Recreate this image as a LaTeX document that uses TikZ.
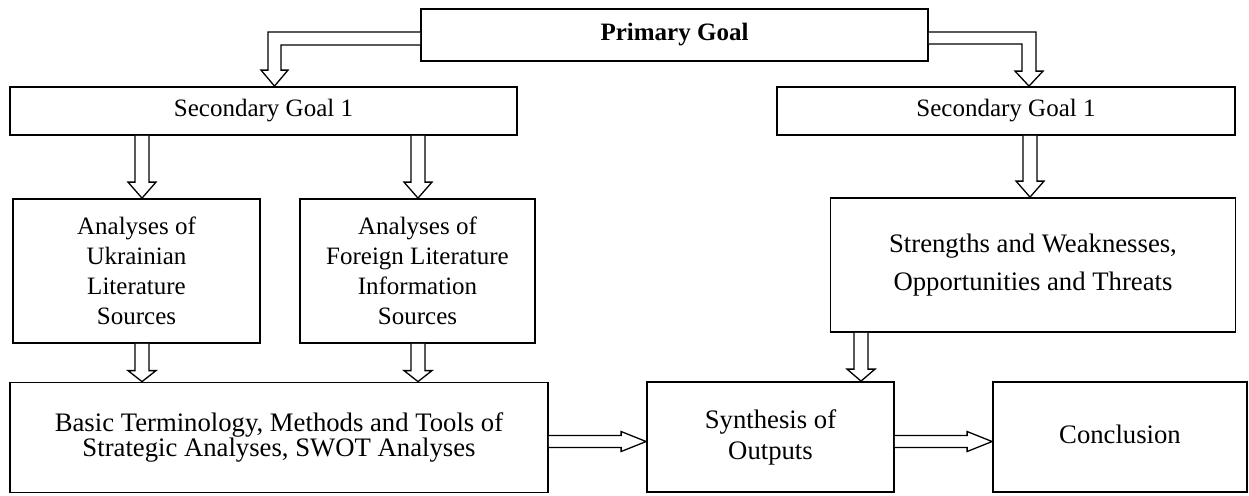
\documentclass[tikz,border=0pt]{standalone}
\usepackage{fontspec}
\setmainfont{Liberation Serif}
\usetikzlibrary{calc}
\tikzset{
  box/.style={draw, line width=1.8pt, inner sep=0pt, align=center, font=\fontsize{25}{30}\selectfont},
  bigbox/.style={box, font=\fontsize{26.7}{31}\selectfont},
  arr/.style={draw, line width=1.3pt, line join=miter, fill=white},
}
% vertical fat arrow: #1 start, #2 end (same x), #3 head length
\newcommand{\downarr}[3]{\draw[arr] let \p1=(#1), \p2=(#2) in
  (\x1-7pt,\y1) -- (\x1-7pt,\y2+#3pt) -- (\x1-14pt,\y2+#3pt) -- (\x1,\y2) --
  (\x1+14pt,\y2+#3pt) -- (\x1+7pt,\y2+#3pt) -- (\x1+7pt,\y1);}
% horizontal fat arrow: #1 start, #2 end (same y)
\newcommand{\rightarr}[2]{\draw[arr] let \p1=(#1), \p2=(#2) in
  (\x1,\y1+6pt) -- (\x2-25pt,\y1+6pt) -- (\x2-25pt,\y1+10pt) -- (\x2,\y1) --
  (\x2-25pt,\y1-10pt) -- (\x2-25pt,\y1-6pt) -- (\x1,\y1-6pt);}
\begin{document}
\begin{tikzpicture}[x=1pt,y=-1pt]
\useasboundingbox (0,0) rectangle (1249,495);
\node[box, minimum width=507, minimum height=52, font=\fontsize{25}{30}\selectfont\bfseries] (primary) at (674.5,35) {Primary Goal};
\node[box, minimum width=507, minimum height=48] (sgL) at (263.5,111) {Secondary Goal 1};
\node[box, minimum width=458, minimum height=48] (sgR) at (1006,111) {Secondary Goal 1};
\node[box, minimum width=247, minimum height=144] (ukr) at (136.5,271) {Analyses of\\Ukrainian\\Literature\\Sources};
\node[box, minimum width=235, minimum height=144] (for) at (417.5,271) {Analyses of\\Foreign Literature\\Information\\Sources};
\node[bigbox, minimum width=405, minimum height=134, font=\fontsize{26.7}{38}\selectfont] (swot) at (1033,265) {Strengths and Weaknesses,\\Opportunities and Threats};
\node[bigbox, minimum width=538, minimum height=110, font=\fontsize{26.7}{25}\selectfont] (basic) at (279,437.5) {Basic Terminology, Methods and Tools of\\Strategic Analyses, SWOT Analyses};
\node[bigbox, minimum width=247, minimum height=110] (synth) at (770.5,437) {Synthesis of\\Outputs};
\node[bigbox, minimum width=254, minimum height=110] (concl) at (1120,437) {\raisebox{5pt}{Conclusion}};

\coordinate (e1) at (274.5,0);
\coordinate (e2) at (1029,0);
\coordinate (v1) at (142,0);
\coordinate (v2) at (418,0);
\coordinate (v3) at (1030,0);
\coordinate (v4) at (861,0);
\coordinate (h1) at (0,441.5);

% elbow arrows from the primary goal
\draw[arr] let \p1=(primary.west), \p2=(sgL.north -| e1) in
  (\x1,\y1+3pt) -- (\x2-6.5pt,\y1+3pt) -- (\x2-6.5pt,\y2+16pt) -- (\x2-13.5pt,\y2+16pt) --
  (\x2,\y2) -- (\x2+13.5pt,\y2+16pt) -- (\x2+6.5pt,\y2+16pt) -- (\x2+6.5pt,\y1-10pt) -- (\x1,\y1-10pt);
\draw[arr] let \p1=(primary.east), \p2=(sgR.north -| e2) in
  (\x1,\y1+3pt) -- (\x2+7pt,\y1+3pt) -- (\x2+7pt,\y2+15pt) -- (\x2+14pt,\y2+15pt) --
  (\x2,\y2) -- (\x2-14pt,\y2+15pt) -- (\x2-7pt,\y2+15pt) -- (\x2-7pt,\y1-9pt) -- (\x1,\y1-9pt);

\downarr{sgL.south -| v1}{ukr.north -| v1}{16}
\downarr{sgL.south -| v2}{for.north -| v2}{16}
\downarr{sgR.south -| v3}{swot.north -| v3}{16}
\downarr{ukr.south -| v1}{basic.north -| v1}{11}
\downarr{for.south -| v2}{basic.north -| v2}{11}
\downarr{swot.south -| v4}{synth.north -| v4}{12}
\rightarr{basic.east |- h1}{synth.west |- h1}
\rightarr{synth.east |- h1}{concl.west |- h1}
\end{tikzpicture}
\end{document}
